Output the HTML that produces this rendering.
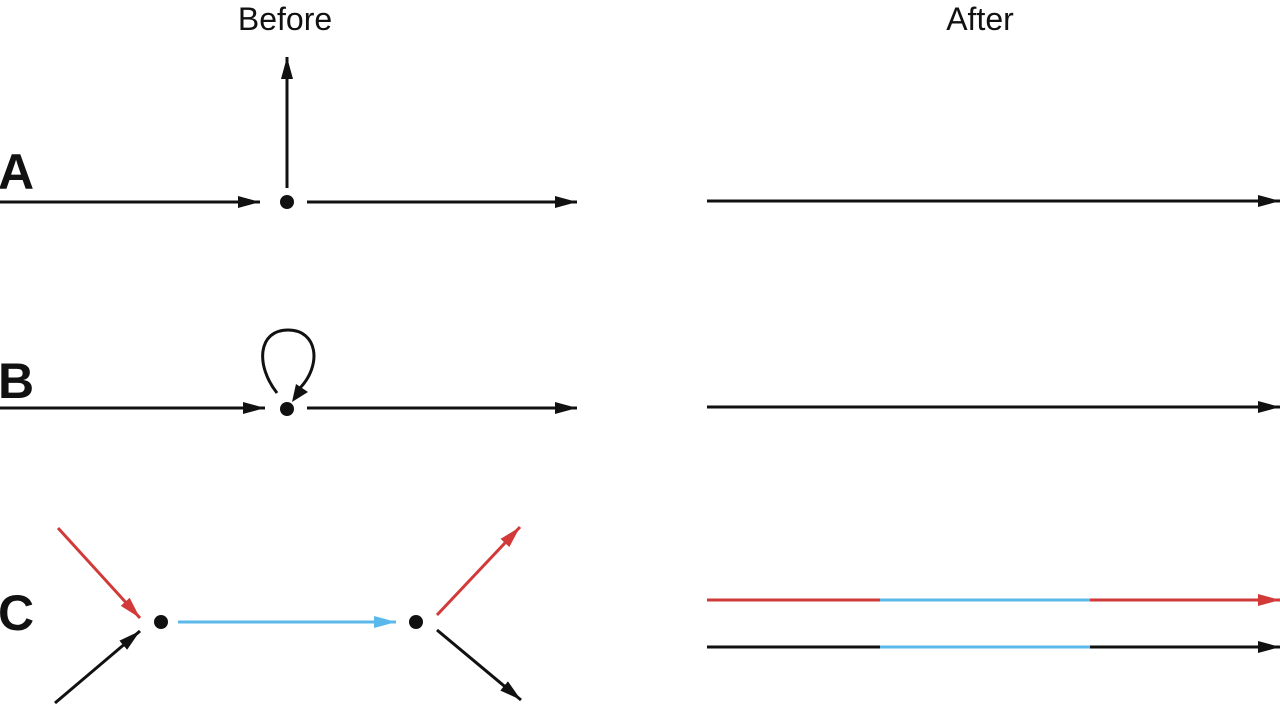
<!DOCTYPE html>
<html><head><style>
body{margin:0;background:#fff;width:1280px;height:705px;overflow:hidden}
</style></head><body>
<svg width="1280" height="705" xmlns="http://www.w3.org/2000/svg" font-family="Liberation Sans, sans-serif">
<defs>
<marker id="kk" markerWidth="22" markerHeight="12" refX="22" refY="6" orient="auto" markerUnits="userSpaceOnUse"><path d="M0,0L22,6L0,12z" fill="#111"/></marker>
<marker id="r" markerWidth="22" markerHeight="12" refX="22" refY="6" orient="auto" markerUnits="userSpaceOnUse"><path d="M0,0L22,6L0,12z" fill="#d23a3a"/></marker>
<marker id="b" markerWidth="22" markerHeight="12" refX="22" refY="6" orient="auto" markerUnits="userSpaceOnUse"><path d="M0,0L22,6L0,12z" fill="#5bb8ea"/></marker>
</defs>
<g font-size="32" fill="#111">
<text x="285" y="30" text-anchor="middle">Before</text>
<text x="980" y="30" text-anchor="middle">After</text>
</g>
<g font-size="50" font-weight="bold" fill="#111">
<text x="-2" y="189">A</text>
<text x="-2" y="398">B</text>
<text x="-2" y="630">C</text>
</g>
<g stroke="#111" stroke-width="3" fill="none">
<line x1="0" y1="202" x2="260" y2="202" marker-end="url(#kk)"/>
<line x1="307" y1="202" x2="577" y2="202" marker-end="url(#kk)"/>
<line x1="287" y1="188" x2="287" y2="57" marker-end="url(#kk)"/>
<line x1="707" y1="201" x2="1280" y2="201" marker-end="url(#kk)"/>
<line x1="0" y1="408" x2="265" y2="408" marker-end="url(#kk)"/>
<line x1="307" y1="408" x2="577" y2="408" marker-end="url(#kk)"/>
<path d="M277,393 C255,365 258,330 288,330 C318,330 322,365 300,388"/>
<line x1="707" y1="407" x2="1280" y2="407" marker-end="url(#kk)"/>
</g>
<path d="M292,402 L296,384 L308,392z" fill="#111"/>
<circle cx="287" cy="202" r="7" fill="#111"/>
<circle cx="287" cy="409" r="7" fill="#111"/>
<circle cx="161" cy="622" r="7" fill="#111"/>
<circle cx="416" cy="622" r="7" fill="#111"/>
<g stroke-width="3" fill="none">
<line x1="58" y1="528" x2="140" y2="618" stroke="#d23a3a" marker-end="url(#r)"/>
<line x1="55" y1="703" x2="140" y2="631" stroke="#111" marker-end="url(#kk)"/>
<line x1="178" y1="622" x2="396" y2="622" stroke="#5bb8ea" marker-end="url(#b)"/>
<line x1="437" y1="615" x2="520" y2="527" stroke="#d23a3a" marker-end="url(#r)"/>
<line x1="437" y1="630" x2="521" y2="700" stroke="#111" marker-end="url(#kk)"/>
<line x1="707" y1="600" x2="880" y2="600" stroke="#d23a3a"/>
<line x1="880" y1="600" x2="1090" y2="600" stroke="#5bb8ea"/>
<line x1="1090" y1="600" x2="1280" y2="600" stroke="#d23a3a" marker-end="url(#r)"/>
<line x1="707" y1="647" x2="880" y2="647" stroke="#111"/>
<line x1="880" y1="647" x2="1090" y2="647" stroke="#5bb8ea"/>
<line x1="1090" y1="647" x2="1280" y2="647" stroke="#111" marker-end="url(#kk)"/>
</g>
</svg>
</body></html>
